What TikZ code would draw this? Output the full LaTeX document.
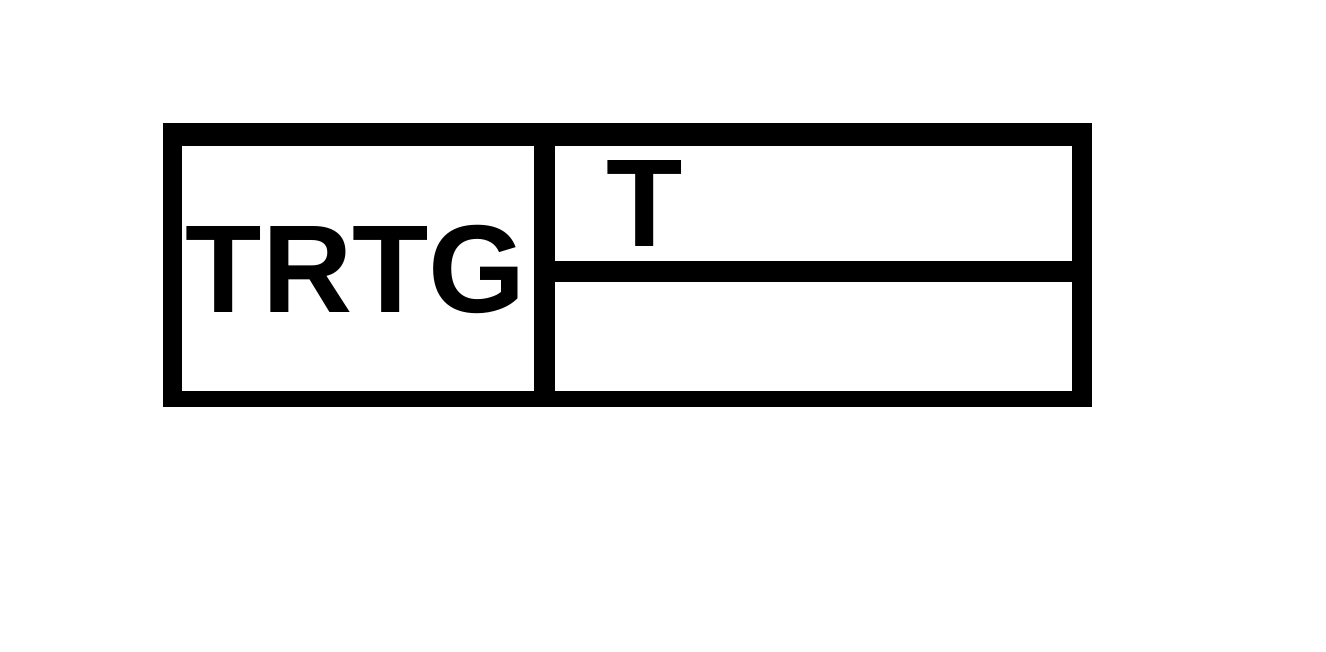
\documentclass[tikz,border=0pt]{standalone}
\usepackage{fontspec}
\setmainfont{Liberation Sans}
\begin{document}
\begin{tikzpicture}[x=1pt,y=-1pt,
  bar/.style={fill=black},
  lbl/.style={inner sep=0pt,anchor=base,font=\bfseries\fontsize{125}{125}\selectfont}]
\useasboundingbox (0,0) rectangle (1326,652);
% outer frame
\fill[bar] (163,123) rectangle (1092,146);
\fill[bar] (163,391) rectangle (1092,407);
\fill[bar] (163,123) rectangle (182,407);
\fill[bar] (1072,123) rectangle (1092,407);
% dividers
\fill[bar] (534,123) rectangle (555,407);
\fill[bar] (555,261) rectangle (1072,282);
% texts
\node[lbl] (trtg) at (356,313) {TRTG};
\node[lbl] (t) at (645,247) {T};
\end{tikzpicture}
\end{document}
